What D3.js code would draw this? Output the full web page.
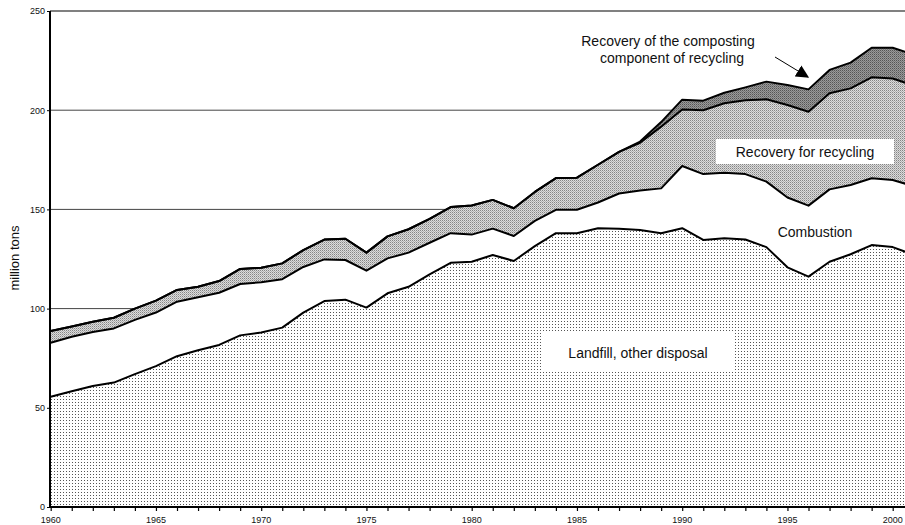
<!DOCTYPE html>
<html>
<head>
<meta charset="utf-8">
<script src="https://cdn.jsdelivr.net/npm/d3@7"></script>
<style>
    body { margin: 0; background: #fff; }
    text { font-family: Arial, "Liberation Sans", Helvetica, sans-serif; fill: #111; }
</style>
</head>
<body>
<svg id="plotSvg"></svg>
<script>
const years = d3.range(1960, 2002);
const landfill = [55.6, 58.3, 61.0, 62.7, 67.0, 71.0, 76.0, 79.0, 81.7, 86.5,
    88.0, 90.4, 98.0, 103.8, 104.5, 100.5, 107.7, 111.0, 117.3, 123.1,
    123.6, 127.0, 124.0, 131.5, 138.0, 138.0, 140.5, 140.3, 139.6, 138.0,
    140.5, 134.6, 135.4, 134.8, 131.0, 120.8, 116.1, 123.6, 127.4, 132.0,
    131.0, 127.1];
const combustion = [27.2, 27.5, 27.2, 27.3, 27.3, 27.0, 27.5, 26.7, 26.3, 25.9,
    25.3, 24.4, 23.0, 21.0, 20.0, 18.6, 17.6, 17.2, 15.9, 14.9,
    13.7, 13.3, 12.6, 12.7, 11.8, 11.8, 13.0, 17.7, 19.9, 22.6,
    31.4, 33.2, 33.1, 33.0, 33.0, 35.2, 35.8, 36.5, 34.9, 33.7,
    33.8, 34.6];
const recycling = [5.9, 5.2, 5.2, 5.4, 5.7, 6.0, 5.9, 5.3, 5.9, 7.6,
    7.3, 8.0, 8.5, 10.0, 10.7, 9.1, 11.1, 11.8, 12.0, 13.2,
    14.7, 14.5, 14.0, 14.6, 16.0, 16.2, 19.0, 21.0, 24.1, 31.1,
    28.5, 32.2, 35.0, 37.2, 41.5, 46.6, 47.3, 48.4, 48.7, 50.9,
    51.2, 50.7];
const composting = [0, 0, 0, 0, 0, 0, 0, 0, 0, 0,
    0, 0, 0, 0, 0, 0, 0, 0, 0, 0,
    0, 0, 0, 0, 0, 0, 0, 0, 0.6, 2.3,
    4.9, 4.8, 5.3, 6.5, 8.9, 10.1, 11.3, 11.8, 13.0, 14.9,
    15.5, 15.6];
const yTicks = [0, 50, 100, 150, 200, 250];
const xLabelYears = [1960, 1965, 1970, 1975, 1980, 1985, 1990, 1995, 2000];
const keys = ["landfill", "combustion", "recycling", "composting"];

function plotGraph() {
    const width = 905, height = 525;
    const svg = d3.select("#plotSvg")
        .attr("width", width)
        .attr("height", height);

    const data = years.map((yr, i) => ({
        year: yr,
        landfill: landfill[i],
        combustion: combustion[i],
        recycling: recycling[i],
        composting: composting[i]
    }));

    const x = d3.scaleLinear().domain([1960, 2000]).range([50.7, 892.7]);
    const y = d3.scaleLinear().domain([0, 250]).range([507, 11]);

    // fill patterns
    const defs = svg.append("defs");
    const p1 = defs.append("pattern").attr("id", "patLandfill")
        .attr("width", 3).attr("height", 3).attr("patternUnits", "userSpaceOnUse");
    p1.append("rect").attr("width", 3).attr("height", 3).attr("fill", "#fff");
    p1.append("rect").attr("width", 1).attr("height", 1).attr("fill", "#555");

    const p2 = defs.append("pattern").attr("id", "patRecycling")
        .attr("width", 2).attr("height", 2).attr("patternUnits", "userSpaceOnUse");
    p2.append("rect").attr("width", 2).attr("height", 2).attr("fill", "#dcdcdc");
    p2.append("rect").attr("width", 1).attr("height", 1).attr("fill", "#858585");
    p2.append("rect").attr("x", 1).attr("y", 1).attr("width", 1).attr("height", 1).attr("fill", "#b0b0b0");

    const p3 = defs.append("pattern").attr("id", "patCompost")
        .attr("width", 2).attr("height", 2).attr("patternUnits", "userSpaceOnUse");
    p3.append("rect").attr("width", 2).attr("height", 2).attr("fill", "#9a9a9a");
    p3.append("rect").attr("width", 1).attr("height", 1).attr("fill", "#555");
    p3.append("rect").attr("x", 1).attr("y", 1).attr("width", 1).attr("height", 1).attr("fill", "#777");

    defs.append("clipPath").attr("id", "plotClip")
        .append("rect").attr("x", 50).attr("y", 0).attr("width", width - 50).attr("height", 508);

    defs.append("marker").attr("id", "arrowHead")
        .attr("viewBox", "0 0 10 10").attr("refX", 9).attr("refY", 5)
        .attr("markerWidth", 13).attr("markerHeight", 13)
        .attr("markerUnits", "userSpaceOnUse")
        .attr("orient", "auto")
        .append("path").attr("d", "M0,0 L10,5 L0,10 Z").attr("fill", "#000");

    // gridlines
    svg.append("g")
        .selectAll("line")
        .data(yTicks.filter(d => d > 0))
        .join("line")
        .attr("x1", 50).attr("x2", width)
        .attr("y1", d => y(d)).attr("y2", d => y(d))
        .attr("stroke", d => d === 250 ? "#808080" : "#444")
        .attr("stroke-width", d => d === 250 ? 2 : 1);

    const fills = {
        landfill: "url(#patLandfill)",
        combustion: "#fff",
        recycling: "url(#patRecycling)",
        composting: "url(#patCompost)"
    };

    const series = d3.stack().keys(keys)(data);

    const area = d3.area()
        .x(d => x(d.data.year))
        .y0(d => y(d[0]))
        .y1(d => y(d[1]));
    const topLine = d3.line()
        .x(d => x(d.data.year))
        .y(d => y(d[1]));

    const plot = svg.append("g").attr("clip-path", "url(#plotClip)");
    plot.selectAll("path.area")
        .data(series)
        .join("path")
        .attr("class", "area")
        .attr("d", area)
        .attr("fill", d => fills[d.key]);

    plot.selectAll("path.edge")
        .data(series)
        .join("path")
        .attr("class", "edge")
        .attr("d", topLine)
        .attr("fill", "none")
        .attr("stroke", "#000")
        .attr("stroke-width", 2)
        .attr("stroke-linejoin", "round");

    // axes
    const xAxis = svg.append("g")
        .attr("transform", `translate(0, ${y(0)})`)
        .call(d3.axisBottom(x).tickValues(years.filter(d => d <= 2000)).tickSize(4).tickFormat(""));
    xAxis.select(".domain").attr("d", `M50,0H${width}`).attr("stroke-width", 2);
    xAxis.selectAll(".tick line").attr("stroke-width", 1.2);

    svg.append("g")
        .selectAll("text")
        .data(xLabelYears)
        .join("text")
        .attr("x", d => x(d))
        .attr("y", 523)
        .attr("text-anchor", "middle")
        .style("font-size", "9px")
        .text(d => d);

    const yAxis = svg.append("g")
        .attr("transform", "translate(50,0)")
        .call(d3.axisLeft(y).tickValues(yTicks).tickSize(3));
    yAxis.select(".domain").attr("d", `M0,${y(250)}V${y(0)}`).attr("stroke-width", 2);
    yAxis.selectAll(".tick text").style("font-size", "9px").attr("x", -5);

    svg.append("text")
        .attr("transform", "translate(19, 258) rotate(-90)")
        .attr("text-anchor", "middle")
        .style("font-size", "13px")
        .text("million tons");

    // labels
    svg.append("text")
        .attr("x", 668).attr("y", 46)
        .attr("text-anchor", "middle")
        .style("font-size", "14px")
        .text("Recovery of the composting");
    svg.append("text")
        .attr("x", 672).attr("y", 63)
        .attr("text-anchor", "middle")
        .style("font-size", "14px")
        .text("component of recycling");
    svg.append("line")
        .attr("x1", 775).attr("y1", 57)
        .attr("x2", 808).attr("y2", 77)
        .attr("stroke", "#000")
        .attr("stroke-width", 1)
        .attr("marker-end", "url(#arrowHead)");

    svg.append("rect")
        .attr("x", 716).attr("y", 139).attr("width", 178).attr("height", 25)
        .attr("fill", "#fff");
    svg.append("text")
        .attr("x", 805).attr("y", 157)
        .attr("text-anchor", "middle")
        .style("font-size", "14px")
        .text("Recovery for recycling");

    svg.append("text")
        .attr("x", 815).attr("y", 237)
        .attr("text-anchor", "middle")
        .style("font-size", "14px")
        .text("Combustion");

    svg.append("rect")
        .attr("x", 542).attr("y", 333).attr("width", 191).attr("height", 39)
        .attr("fill", "#fff");
    svg.append("text")
        .attr("x", 638).attr("y", 358)
        .attr("text-anchor", "middle")
        .style("font-size", "14px")
        .text("Landfill, other disposal");
}

document.addEventListener('DOMContentLoaded', function () {
    plotGraph();
});
</script>
</body>
</html>
